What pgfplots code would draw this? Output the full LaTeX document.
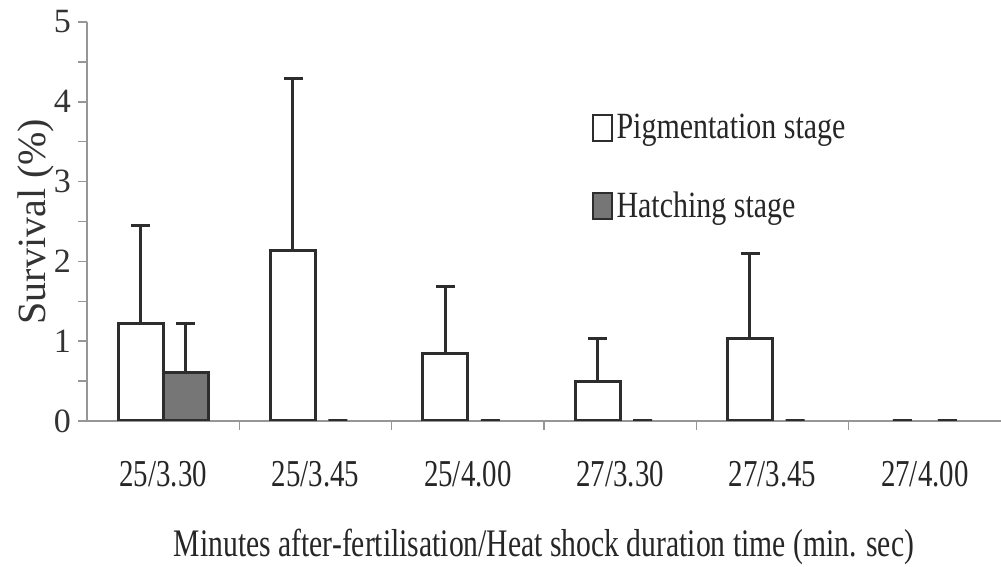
\documentclass[border=0pt]{standalone}
\usepackage{pgfplots}
\pgfplotsset{compat=1.18}
\usepackage{fontspec}
\setmainfont{Liberation Serif}
\newfontfamily\catfont{Liberation Serif}[FakeStretch=0.76]
\newfontfamily\xlabfont{Liberation Serif}[FakeStretch=0.76]
\newfontfamily\legfont{Liberation Serif}[FakeStretch=0.81]
\definecolor{axgray}{RGB}{150,150,150}
\definecolor{barline}{RGB}{45,45,45}
\definecolor{hatchfill}{RGB}{118,118,118}
\begin{document}
\begin{tikzpicture}
\useasboundingbox (0,0) rectangle (500.5pt,283.5pt);
\begin{axis}[
  at={(43.5pt,73pt)}, anchor=south west,
  scale only axis, width=457pt, height=199.5pt,
  xmin=-0.5, xmax=5.5, ymin=0, ymax=5,
  axis x line*=bottom, axis y line*=left,
  axis line style={axgray, line width=0.7pt, -},
  tick align=outside,
  xtick={0,1,2,3,4,5},
  xticklabels={25/3.30,25/3.45,25/4.00,27/3.30,27/3.45,27/4.00},
  minor xtick={0.5,1.5,2.5,3.5,4.5},
  x tick style={draw=none},
  minor x tick style={draw=axgray, line width=0.7pt},
  ytick={0,1,2,3,4,5},
  minor ytick={0.5,1.5,2.5,3.5,4.5},
  y tick style={draw=axgray, line width=0.7pt},
  minor y tick style={draw=axgray, line width=0.7pt},
  major tick length=4.5pt, minor tick length=4.5pt,
  /pgf/number format/assume math mode=true,
  yticklabel style={font=\fontsize{17}{19}\selectfont, text=black!80},
  xticklabel style={font=\catfont\fontsize{19}{21}\selectfont, text=black!85, yshift=-12pt},
  ylabel={Survival (\%)},
  ylabel style={font=\fontsize{20}{22}\selectfont, text=black!80, yshift=-7pt},
  xlabel={Minutes after-fertilisation/Heat shock duration time (min. sec)},
  xlabel style={font=\xlabfont\fontsize{19.5}{21}\selectfont, text=black!85, yshift=-14pt},
  legend style={at={(0.545,0.79)}, anchor=north west, draw=none, fill=none,
    font=\legfont\fontsize{18.5}{20}\selectfont, text=black!85, row sep=21pt,
    /tikz/every even column/.append style={column sep=2pt}},
  legend cell align=left,
  legend image code/.code={\draw[#1, line width=1pt] (0pt,-6.5pt) rectangle (9.5pt,6.5pt);},
]
% Pigmentation stage
\addplot[ybar, bar width=22.5pt, bar shift=-11.25pt, draw=barline, fill=white, line width=1.5pt,
  error bars/.cd, y dir=plus, y explicit,
  error bar style={draw=barline, line width=1.5pt, xshift=-11.25pt},
  error mark options={draw=barline, rotate=90, mark size=4.75pt, line width=1.5pt}]
coordinates {(0,1.22) +- (0,1.23) (1,2.14) +- (0,2.15) (2,0.84) +- (0,0.84) (3,0.49) +- (0,0.54) (4,1.04) +- (0,1.06)};
\addlegendentry{Pigmentation stage}
% Hatching stage
\addplot[ybar, bar width=22.5pt, bar shift=11.25pt, draw=barline, fill=hatchfill, line width=1.5pt,
  error bars/.cd, y dir=plus, y explicit,
  error bar style={draw=barline, line width=1.5pt, xshift=11.25pt},
  error mark options={draw=barline, rotate=90, mark size=4.75pt, line width=1.5pt}]
coordinates {(0,0.61) +- (0,0.61)};
\addlegendentry{Hatching stage}
% zero values: only a short cap is visible
\addplot[forget plot, ybar, bar width=9.5pt, bar shift=-11.25pt, draw=barline, fill=none, line width=1.5pt]
coordinates {(5,0)};
\addplot[forget plot, ybar, bar width=9.5pt, bar shift=11.25pt, draw=barline, fill=none, line width=1.5pt]
coordinates {(1,0) (2,0) (3,0) (4,0) (5,0)};
\end{axis}
\end{tikzpicture}
\end{document}
